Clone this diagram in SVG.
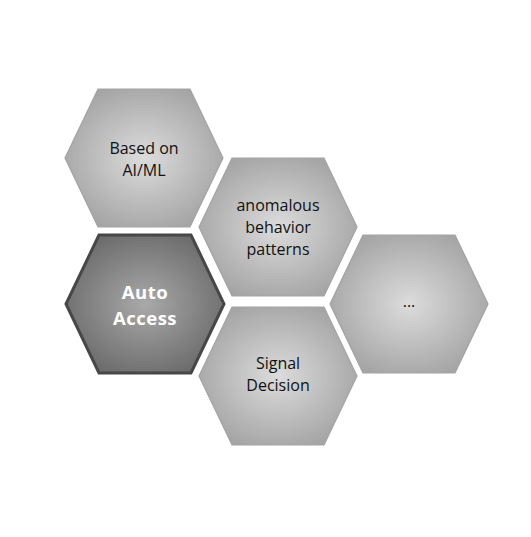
<svg xmlns="http://www.w3.org/2000/svg" width="531" height="537" viewBox="0 0 531 537">
<style>
.hex{fill:url(#g1);stroke:#a3a3a3;stroke-width:1.2}
.hexd{fill:url(#g2);stroke:#474747;stroke-width:3}
.t{font-family:"Open Sans","Noto Sans","Liberation Sans",sans-serif;font-size:16px;fill:#111111;text-anchor:middle}
.tb{font-family:"Open Sans","Noto Sans","Liberation Sans",sans-serif;font-size:18.5px;letter-spacing:0.5px;font-weight:bold;fill:#ffffff;text-anchor:middle}
</style>
<defs>
<radialGradient id="g1" cx="0.5" cy="0.5" r="0.55">
<stop offset="0" stop-color="#dcdcdc"/>
<stop offset="1" stop-color="#a5a5a5"/>
</radialGradient>
<radialGradient id="g2" cx="0.5" cy="0.5" r="0.55">
<stop offset="0" stop-color="#a9a9a9"/>
<stop offset="1" stop-color="#6c6c6c"/>
</radialGradient>
<polygon id="hx" points="-79,0 -46,-69 46,-69 79,0 46,69 -46,69"/>
</defs>
<rect width="531" height="537" fill="#ffffff"/>
<g id="connectors"/>
<g id="node-aiml">
<use href="#hx" class="hex" x="144" y="158"/>
<text class="t" x="144" y="153.9">Based on</text>
<text class="t" x="144" y="175.7">AI/ML</text>
</g>
<g id="node-anomalous">
<use href="#hx" class="hex" x="278" y="227"/>
<text class="t" x="278" y="211">anomalous</text>
<text class="t" x="278" y="232.8">behavior</text>
<text class="t" x="278" y="254.6">patterns</text>
</g>
<g id="node-signal">
<use href="#hx" class="hex" x="278" y="376"/>
<text class="t" x="278" y="368.9">Signal</text>
<text class="t" x="278" y="390.7">Decision</text>
</g>
<g id="node-more">
<use href="#hx" class="hex" x="409" y="304"/>
<text class="t" x="409" y="307">...</text>
</g>
<g id="node-auto">
<use href="#hx" class="hexd" x="145" y="304"/>
<text class="tb" x="145" y="299.2">Auto</text>
<text class="tb" x="145" y="324.6">Access</text>
</g>
</svg>
